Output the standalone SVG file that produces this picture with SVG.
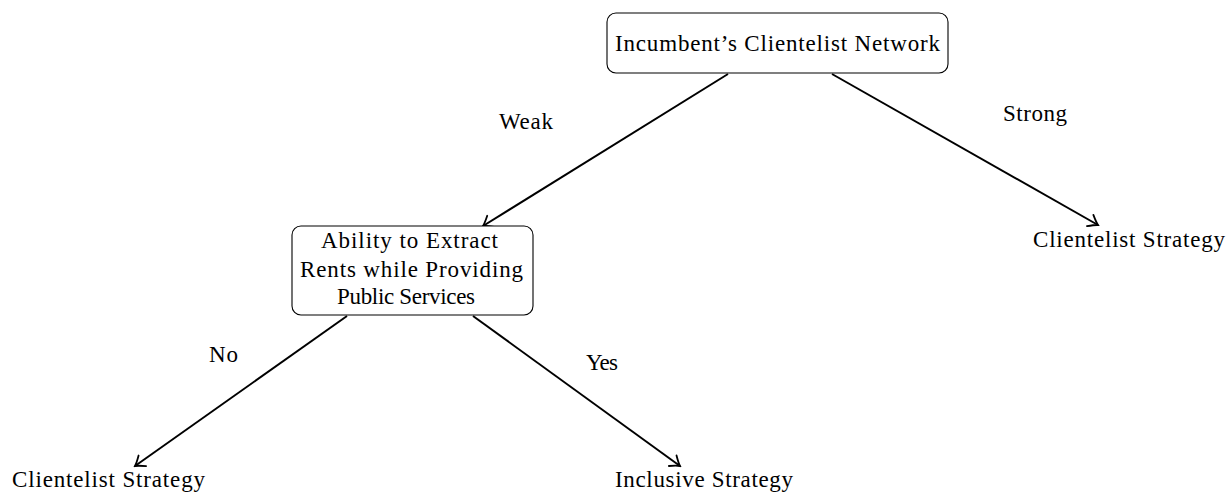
<svg xmlns="http://www.w3.org/2000/svg" width="1230" height="494" viewBox="0 0 1230 494">
<style>
text{font-family:"Liberation Serif","DejaVu Serif",serif;font-size:23px;fill:#000}
.box{fill:#fff;stroke:#000;stroke-width:1.1}
.edge{fill:none;stroke:#000;stroke-width:2}
</style>
<defs>
<marker id="arr" markerUnits="userSpaceOnUse" viewBox="-12 -8 14 16" markerWidth="14" markerHeight="16" refX="0" refY="0" orient="auto">
<path d="M-9,-6.5 Q-3,-1.5 0,0 Q-3,1.5 -9,6.5" fill="none" stroke="#000" stroke-width="1.8" stroke-linecap="round"/>
</marker>
</defs>
<rect width="1230" height="494" fill="#fff"/>
<g id="connectors">
<line class="edge" x1="728" y1="74" x2="483" y2="226" marker-end="url(#arr)"/>
<line class="edge" x1="832" y1="74" x2="1098" y2="225" marker-end="url(#arr)"/>
<line class="edge" x1="347" y1="316" x2="135" y2="466" marker-end="url(#arr)"/>
<line class="edge" x1="473" y1="316" x2="680" y2="466" marker-end="url(#arr)"/>
<text x="499" y="129" textLength="54">Weak</text>
<text x="1003" y="121" textLength="64">Strong</text>
<text x="209" y="362" textLength="29">No</text>
<text x="586" y="370" textLength="32">Yes</text>
</g>
<g id="root">
<rect class="box" x="607" y="13" width="341" height="60" rx="9"/>
<text x="615" y="51" textLength="325">Incumbent’s Clientelist Network</text>
</g>
<g id="ability">
<rect class="box" x="292" y="226" width="241" height="89" rx="9"/>
<text x="321" y="248" textLength="177">Ability to Extract</text>
<text x="300" y="277" textLength="223">Rents while Providing</text>
<text x="337" y="304" textLength="138">Public Services</text>
</g>
<g id="leaf-strong">
<text x="1033" y="247" textLength="192">Clientelist Strategy</text>
</g>
<g id="leaf-no">
<text x="12" y="487" textLength="193">Clientelist Strategy</text>
</g>
<g id="leaf-yes">
<text x="615" y="487" textLength="178">Inclusive Strategy</text>
</g>
</svg>
